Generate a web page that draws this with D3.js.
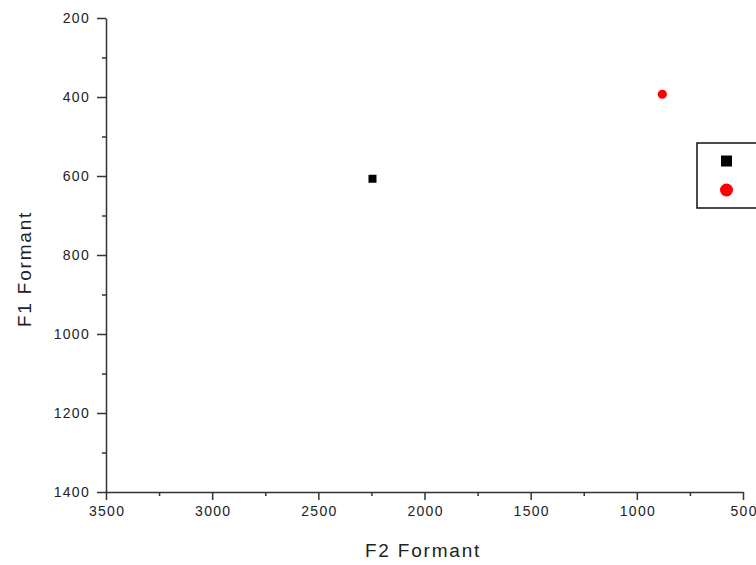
<!DOCTYPE html>
<html>
<head>
<meta charset="utf-8">
<script src="https://cdn.jsdelivr.net/npm/d3@7"></script>
<style>
  html, body { margin: 0; padding: 0; background: #fff; }
  svg { display: block; }
  text { font-family: "Liberation Sans", Arial, sans-serif; fill: #222; }
</style>
</head>
<body>
<svg id="chart" width="756" height="565"></svg>
<script>
// Vowel formant points: F2 on the x axis, F1 on the y axis (both reversed)
const seriesNames = ["Vowel A", "Vowel B"];
const f2Values = [2245, 880];
const f1Values = [607, 393];
const seriesColors = ["#000000", "#ff0000"];
const seriesShapes = ["square", "circle"];

const xTicks = [3500, 3000, 2500, 2000, 1500, 1000, 500];
const yTicks = [200, 400, 600, 800, 1000, 1200, 1400];

const svg = d3.select("#chart");
const plotLeft = 106, plotRight = 743, plotTop = 18, plotBottom = 492;

const x = d3.scaleLinear().domain([3500, 500]).range([plotLeft, plotRight]);
const y = d3.scaleLinear().domain([200, 1400]).range([plotTop, plotBottom]);

const axisColor = "#333";
const labelFont = "'Liberation Sans', Arial, sans-serif";

// minor ticks halfway between the majors
const xMinor = d3.range(3250, 500, -500);
const yMinor = d3.range(300, 1400, 200);

const gx = svg.append("g").attr("transform", `translate(0,${plotBottom})`);
gx.call(d3.axisBottom(x).tickValues(xMinor).tickSize(4).tickFormat(""))
  .call(g => g.select(".domain").remove())
  .call(g => g.selectAll("line").attr("stroke", axisColor).attr("stroke-width", 1.5));
gx.append("g").call(d3.axisBottom(x).tickValues(xTicks).tickSize(8).tickSizeOuter(0).tickPadding(6).tickFormat(d3.format("d")))
  .call(g => g.select(".domain").attr("stroke", axisColor).attr("stroke-width", 1.5))
  .call(g => g.selectAll("line").attr("stroke", axisColor).attr("stroke-width", 1.5))
  .call(g => g.selectAll("text").attr("font-size", 14).attr("letter-spacing", "1.3px")
    .attr("fill", "#222").attr("font-family", labelFont).attr("dx", "0.6px"));

const gy = svg.append("g").attr("transform", `translate(${plotLeft},0)`);
gy.call(d3.axisLeft(y).tickValues(yMinor).tickSize(4).tickFormat(""))
  .call(g => g.select(".domain").remove())
  .call(g => g.selectAll("line").attr("stroke", axisColor).attr("stroke-width", 1.5));
gy.append("g").call(d3.axisLeft(y).tickValues(yTicks).tickSize(9).tickSizeOuter(0).tickPadding(7).tickFormat(d3.format("d")))
  .call(g => g.select(".domain").attr("stroke", axisColor).attr("stroke-width", 1.5))
  .call(g => g.selectAll("line").attr("stroke", axisColor).attr("stroke-width", 1.5))
  .call(g => g.selectAll("text").attr("font-size", 14).attr("letter-spacing", "1.3px")
    .attr("fill", "#222").attr("font-family", labelFont));

// axis titles
svg.append("text")
  .attr("x", 423).attr("y", 557)
  .attr("text-anchor", "middle").attr("font-size", 19).attr("letter-spacing", "1.8px")
  .text("F2 Formant");
svg.append("text")
  .attr("transform", `translate(31,269) rotate(-90)`)
  .attr("text-anchor", "middle").attr("font-size", 19).attr("letter-spacing", "1.8px")
  .text("F1 Formant");

// data points
const points = f2Values.map((v, i) => ({ f2: v, f1: f1Values[i], color: seriesColors[i], shape: seriesShapes[i] }));
const symbolFor = (shape, size) => d3.symbol()
  .type(shape === "square" ? d3.symbolSquare : d3.symbolCircle).size(size)();

svg.append("g").selectAll("path").data(points).join("path")
  .attr("transform", d => `translate(${x(d.f2)},${y(d.f1)})`)
  .attr("d", d => symbolFor(d.shape, d.shape === "square" ? 64 : 66))
  .attr("fill", d => d.color);

// legend box (extends past the right edge)
const legend = svg.append("g").attr("transform", "translate(697,143)");
legend.append("rect").attr("x", 0).attr("y", 0).attr("width", 80).attr("height", 65)
  .attr("fill", "#fff").attr("stroke", "#111").attr("stroke-width", 1.5);
legend.selectAll("path").data(seriesNames).join("path")
  .attr("transform", (d, i) => `translate(29.5,${18 + i * 29})`)
  .attr("d", (d, i) => symbolFor(seriesShapes[i], seriesShapes[i] === "square" ? 121 : 133))
  .attr("fill", (d, i) => seriesColors[i]);
</script>
</body>
</html>
